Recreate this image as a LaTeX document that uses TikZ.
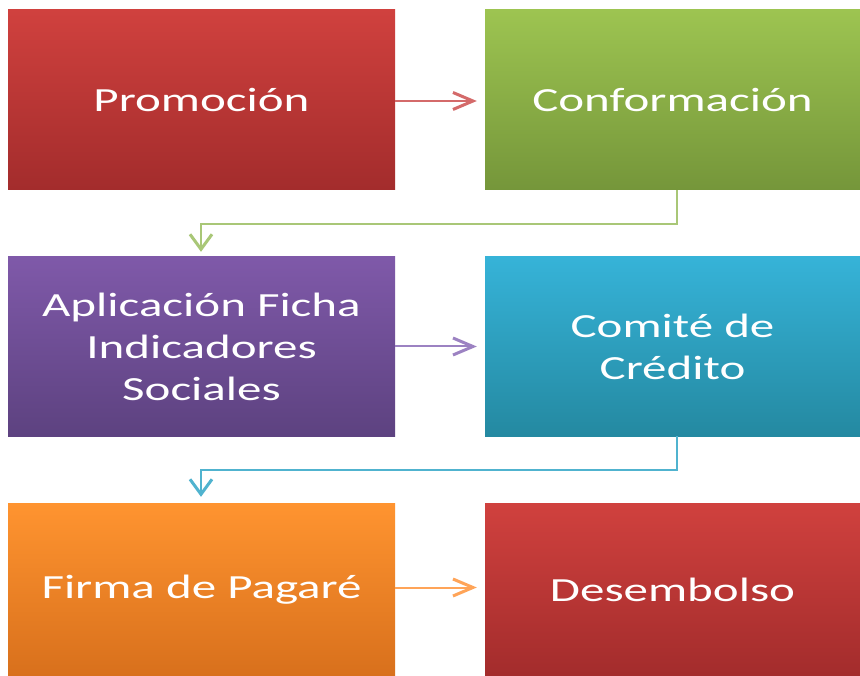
\documentclass[tikz,border=0pt]{standalone}
\usepackage{fontspec}
\usetikzlibrary{arrows.meta}
\newfontfamily\boxfont[FakeStretch=1.45]{Carlito}
\definecolor{redT}{HTML}{D0413E}\definecolor{redB}{HTML}{A32C2C}
\definecolor{grnT}{HTML}{9DC451}\definecolor{grnB}{HTML}{75963A}
\definecolor{purT}{HTML}{7F59A9}\definecolor{purB}{HTML}{5D4280}
\definecolor{bluT}{HTML}{36B3D8}\definecolor{bluB}{HTML}{2489A1}
\definecolor{ornT}{HTML}{FF9430}\definecolor{ornB}{HTML}{D8701C}
\definecolor{redL}{HTML}{D46A6A}\definecolor{grnL}{HTML}{A9C777}
\definecolor{purL}{HTML}{9C82C2}\definecolor{bluL}{HTML}{50B3CF}
\definecolor{ornL}{HTML}{FFA458}
\tikzset{
  procbox/.style={rectangle, draw=none, text=white, align=center,
    font=\boxfont\fontsize{33.8}{42}\selectfont, inner sep=0pt},
  hconn/.style={line width=2pt, -{Straight Barb[length=20pt,width=17pt,line width=3pt]}},
  vconn/.style={line width=2pt, -{Straight Barb[length=15pt,width=22pt,line width=3pt]}}
}
\begin{document}
\begin{tikzpicture}[x=1pt,y=-1pt]
\useasboundingbox[fill=white] (0,0) rectangle (860,676);
\node[procbox, minimum width=387pt, minimum height=180pt, top color=redT, bottom color=redB] (prom) at (201.5,100) {Promoción};
\node[procbox, minimum width=375pt, minimum height=180pt, top color=grnT, bottom color=grnB] (conf) at (672.5,100) {Conformación};
\node[procbox, minimum width=387pt, minimum height=179pt, top color=purT, bottom color=purB] (apl) at (201.5,346.5) {Aplicación Ficha\\Indicadores\\Sociales};
\node[procbox, minimum width=375pt, minimum height=179pt, top color=bluT, bottom color=bluB] (com) at (672.5,346.5) {Comité de\\Crédito};
\node[procbox, minimum width=387pt, minimum height=173pt, top color=ornT, bottom color=ornB] (firma) at (201.5,589.5) {Firma de Pagaré};
\node[procbox, minimum width=375pt, minimum height=173pt, top color=redT, bottom color=redB] (des) at (672.5,589.5) {Desembolso};
\draw[hconn, redL, shorten >=8pt] ([yshift=-1pt]prom.east) -- ([yshift=-1pt]conf.west);
\draw[hconn, purL, shorten >=8pt] (apl.east) -- (com.west);
\draw[hconn, ornL, shorten >=8pt] ([yshift=2pt]firma.east) -- ([yshift=2pt]des.west);
\draw[vconn, grnL, shorten >=5pt] ([xshift=4.5pt]conf.south) -- ++(0,34) -| ([xshift=-0.5pt]apl.north);
\draw[vconn, bluL, shorten >=6pt] ([xshift=4.5pt]com.south) -- ++(0,34) -| ([xshift=-0.5pt]firma.north);
\end{tikzpicture}
\end{document}
